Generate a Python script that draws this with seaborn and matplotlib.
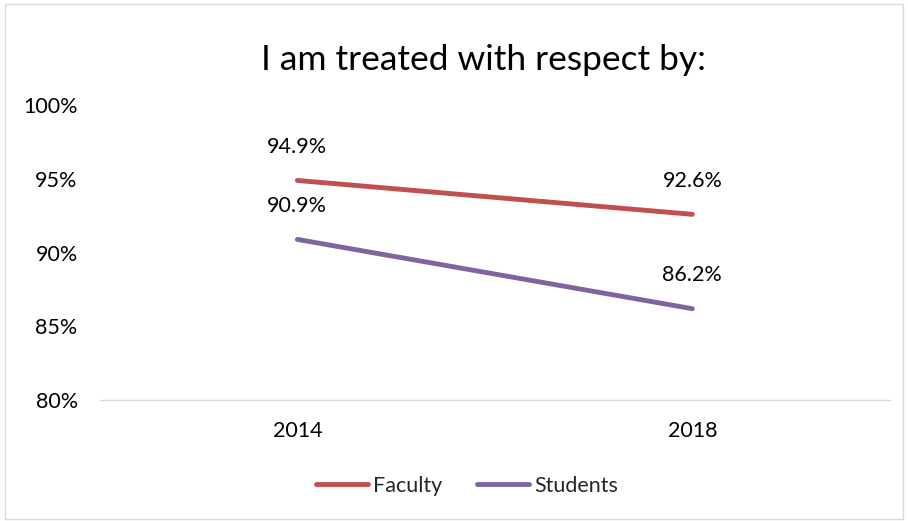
import matplotlib
matplotlib.use("Agg")
import pandas as pd
import matplotlib.pyplot as plt
import seaborn as sns
from matplotlib.patches import Rectangle
from matplotlib.ticker import FuncFormatter

# data
years = ['2014', '2018']
faculty = [94.9, 92.6]
students = [90.9, 86.2]
series_names = ['Faculty', 'Students']
colors = ['#C0504D', '#8064A2']

df = pd.DataFrame({
    'year': years * 2,
    'value': faculty + students,
    'group': [series_names[0]] * 2 + [series_names[1]] * 2,
})
df['x'] = [0, 1, 0, 1]

sns.set_style('white')
plt.rcParams['font.family'] = ['Lato', 'DejaVu Sans']

fig = plt.figure(figsize=(9.08, 5.21), dpi=100)
ax = fig.add_axes([0.110, 0.232, 0.870, 0.566])

sns.lineplot(data=df, x='x', y='value', hue='group', palette=colors,
             linewidth=3.5, ax=ax, legend=True)

# data labels
for vals in [faculty, students]:
    for i, v in enumerate(vals):
        ax.annotate(f'{v:.1f}%', (i, v), xytext=(0, 24), textcoords='offset points',
                    ha='center', va='center', fontsize=15.5, color='#000000')

ax.set_xlim(-0.5, 1.5)
ax.set_ylim(80, 100)
ax.set_yticks([80, 85, 90, 95, 100])
ax.yaxis.set_major_formatter(FuncFormatter(lambda v, p: f'{v:.0f}%'))
ax.set_xticks([0, 1])
ax.set_xticklabels(years)
ax.tick_params(axis='both', labelsize=15.5, length=0, colors='#000000')
ax.tick_params(axis='x', pad=15)
ax.tick_params(axis='y', pad=16)
ax.set_xlabel('')
ax.set_ylabel('')
for s in ['top', 'right', 'left']:
    ax.spines[s].set_visible(False)
ax.spines['bottom'].set_color('#D9D9D9')
ax.spines['bottom'].set_linewidth(1)

fig.text(0.533, 0.885, 'I am treated with respect by:', ha='center', va='center',
         fontsize=25.5, color='#000000')

handles, labels = ax.get_legend_handles_labels()
ax.legend(handles, labels, loc='center', bbox_to_anchor=(0.465, -0.29), ncol=2,
          frameon=False, fontsize=15.5, handlelength=2.4, handletextpad=0.25,
          columnspacing=1.6)

fig.patches.append(Rectangle((0.005, 0.003), 0.99, 0.99, transform=fig.transFigure,
                             fill=False, edgecolor='#D9D9D9', linewidth=1))

fig.savefig('out.png', dpi=100)
